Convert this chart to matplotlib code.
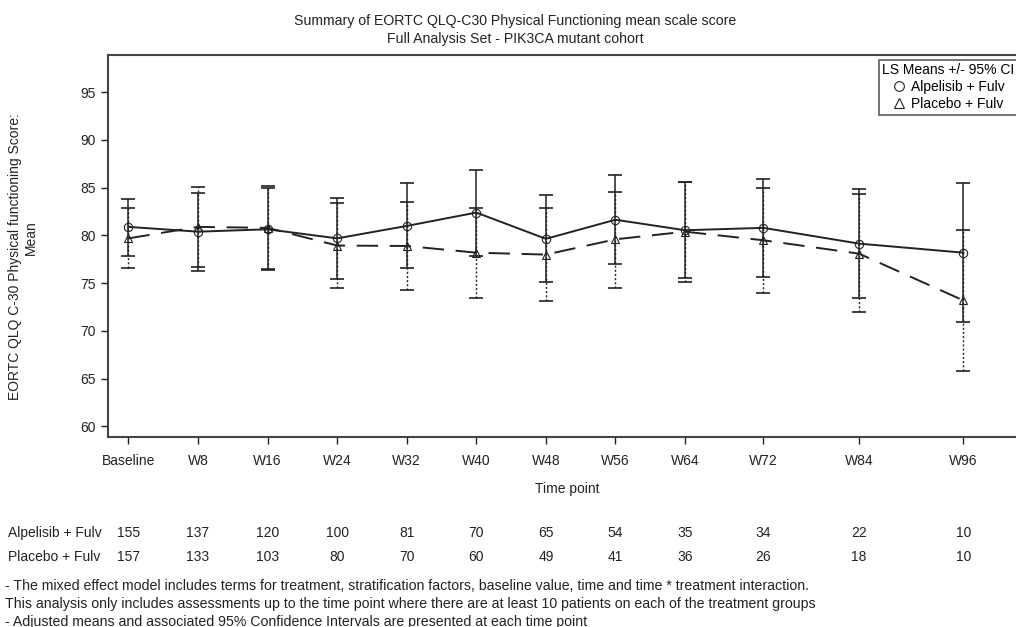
import matplotlib
matplotlib.use("Agg")
import matplotlib.pyplot as plt
import matplotlib.transforms as mtransforms
from matplotlib.lines import Line2D
import numpy as np

plt.rcParams['font.family'] = ['Liberation Sans', 'DejaVu Sans']

# time points (x position in weeks as drawn on the original axis)
visits = ["Baseline", "W8", "W16", "W24", "W32", "W40", "W48", "W56", "W64", "W72", "W84", "W96"]
weeks = [0, 8, 16, 24, 32, 40, 48, 56, 64, 73, 84, 96]

# LS means and 95% CI
alp_mean = [80.9, 80.4, 80.65, 79.7, 81.0, 82.4, 79.65, 81.65, 80.55, 80.8, 79.15, 78.2]
alp_lo = [77.9, 76.25, 76.4, 75.45, 76.55, 77.85, 75.1, 77.0, 75.5, 75.65, 73.45, 70.9]
alp_hi = [83.85, 84.5, 84.95, 83.95, 85.45, 86.9, 84.25, 86.3, 85.65, 85.9, 84.85, 85.45]

pla_mean = [79.7, 80.9, 80.8, 78.95, 78.9, 78.2, 78.0, 79.6, 80.4, 79.5, 78.1, 73.2]
pla_lo = [76.55, 76.75, 76.45, 74.45, 74.3, 73.45, 73.1, 74.55, 75.15, 73.95, 71.95, 65.85]
pla_hi = [82.9, 85.1, 85.15, 83.45, 83.5, 82.9, 82.9, 84.6, 85.6, 85.0, 84.3, 80.6]

# number of patients
n_alp = [155, 137, 120, 100, 81, 70, 65, 54, 35, 34, 22, 10]
n_pla = [157, 133, 103, 80, 70, 60, 49, 41, 36, 26, 18, 10]

fig = plt.figure(figsize=(10.16, 6.27), dpi=100)
W, H = 1016.0, 627.0
ax = fig.add_axes([108/W, 1-437/H, (1026-108)/W, (437-55)/H])

ink = '#222222'
alp_mean = np.array(alp_mean); pla_mean = np.array(pla_mean)
wk = np.array(weeks)

# placebo
eb = ax.errorbar(wk, pla_mean, yerr=[pla_mean-np.array(pla_lo), np.array(pla_hi)-pla_mean],
                 fmt='none', ecolor=ink, elinewidth=1.0, capsize=5, capthick=1.2)
eb[2][0].set_linestyle((0, (1.5, 1.5)))
ax.plot(wk, pla_mean, color=ink, lw=1.4, dashes=(11, 6), marker='^', markersize=6,
        markerfacecolor='none', markeredgecolor=ink, markeredgewidth=0.8)

# alpelisib
ax.errorbar(wk, alp_mean, yerr=[alp_mean-np.array(alp_lo), np.array(alp_hi)-alp_mean],
            fmt='none', ecolor=ink, elinewidth=1.1, capsize=5, capthick=1.2)
ax.plot(wk, alp_mean, color=ink, lw=1.4, marker='o', markersize=6,
        markerfacecolor='none', markeredgecolor=ink, markeredgewidth=0.8)

ax.set_xlim(-2.35, 103.2)
ax.set_ylim(58.9, 98.9)
ax.set_yticks(np.arange(60, 96, 5))
ax.set_xticks(weeks)
ax.set_xticklabels(visits)
ax.tick_params(labelsize=10, colors=ink, length=5, width=1, direction='out')
ax.tick_params(axis='x', pad=7)
for s in ax.spines.values():
    s.set_color('#444444')
    s.set_linewidth(1.5)
ax.set_xlabel("Time point", fontsize=10, color=ink, labelpad=10)

# y label in two pieces
fig.text(15/W, 1-257/H, "EORTC QLQ C-30 Physical functioning Score:", rotation=90,
         ha='center', va='center', fontsize=10, color=ink)
fig.text(31/W, 1-238/H, "Mean", rotation=90, ha='center', va='center', fontsize=10, color=ink)

# titles
fig.text(515/W, 1-21/H, "Summary of EORTC QLQ-C30 Physical Functioning mean scale score",
         ha='center', va='center', fontsize=10.2, color=ink)
fig.text(515/W, 1-39/H, "Full Analysis Set - PIK3CA mutant cohort",
         ha='center', va='center', fontsize=10.2, color=ink)

# legend
handles = [Line2D([], [], ls='none', marker='o', markersize=7, markerfacecolor='none', markeredgecolor=ink, markeredgewidth=0.8),
           Line2D([], [], ls='none', marker='^', markersize=7, markerfacecolor='none', markeredgecolor=ink, markeredgewidth=0.8)]
leg = ax.legend(handles, ["Alpelisib + Fulv", "Placebo + Fulv"], title="LS Means +/- 95% CI",
                loc='upper left', bbox_to_anchor=(879/W, 1-60/H), bbox_transform=fig.transFigure,
                fontsize=10, title_fontsize=10, frameon=True, fancybox=False, borderpad=0.25,
                handlelength=1.0, handletextpad=0.4, labelspacing=0.2, borderaxespad=0)
leg._legend_box.align = 'center'
leg.get_frame().set_edgecolor('#333333')
leg.get_frame().set_linewidth(1.2)

# numbers of patients under the plot
trans = mtransforms.blended_transform_factory(ax.transData, fig.transFigure)
fig.text(8/W, 1-533/H, "Alpelisib + Fulv", ha='left', va='center', fontsize=10, color=ink)
fig.text(8/W, 1-557/H, "Placebo + Fulv", ha='left', va='center', fontsize=10, color=ink)
for x, a, p in zip(weeks, n_alp, n_pla):
    ax.text(x, 1-533/H, str(a), transform=trans, ha='center', va='center', fontsize=10, color=ink)
    ax.text(x, 1-557/H, str(p), transform=trans, ha='center', va='center', fontsize=10, color=ink)

# footnotes
notes = ["- The mixed effect model includes terms for treatment, stratification factors, baseline value, time and time * treatment interaction.",
         "This analysis only includes assessments up to the time point where there are at least 10 patients on each of the treatment groups",
         "- Adjusted means and associated 95% Confidence Intervals are presented at each time point"]
for i, t in enumerate(notes):
    fig.text(5/W, 1-(586+18*i)/H, t, ha='left', va='center', fontsize=10.2, color=ink)

fig.savefig("out.png", dpi=100)
